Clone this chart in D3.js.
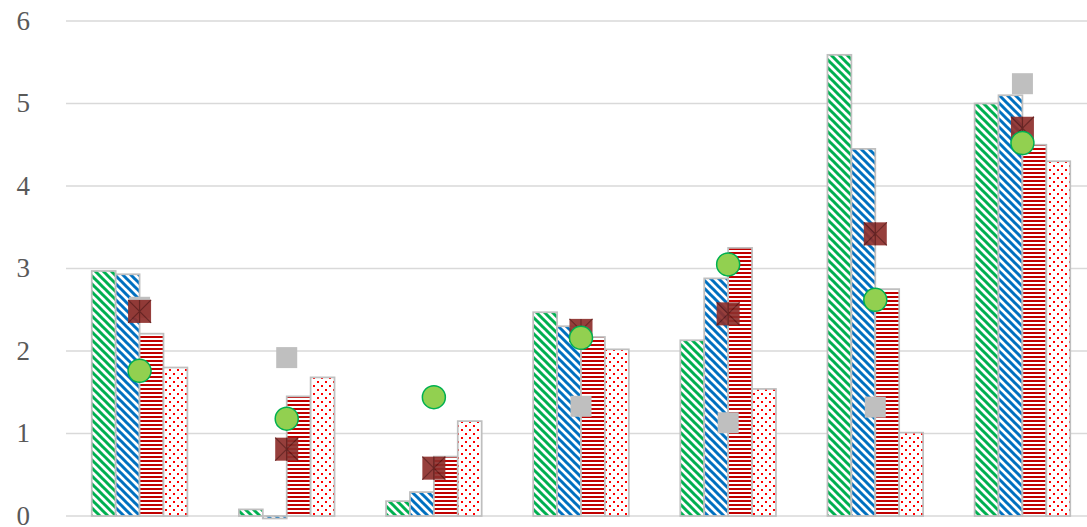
<!DOCTYPE html>
<html>
<head>
<meta charset="utf-8">
<script src="https://cdn.jsdelivr.net/npm/d3@7"></script>
<style>
  body { margin: 0; background: #fff; }
  .ylab { font-family: "Liberation Serif", "Times New Roman", serif; }
</style>
</head>
<body>
<div id="chart"></div>
<script>
// groups (no labels shown on the x axis)
const groups = ["1", "2", "3", "4", "5", "6", "7"]
const yTicks = [0, 1, 2, 3, 4, 5, 6]

// bar series
const greenBars = [2.97, 0.08, 0.18, 2.47, 2.13, 5.59, 5.00]
const blueBars = [2.93, -0.03, 0.29, 2.30, 2.88, 4.45, 5.10]
const redBars = [2.21, 1.45, 0.72, 2.17, 3.25, 2.75, 4.50]
const dotBars = [1.80, 1.68, 1.15, 2.02, 1.54, 1.01, 4.30]

// marker series
const grayMarks = [2.53, 1.92, null, 1.33, 1.13, 1.32, 5.24]
const crossMarks = [2.48, 0.81, 0.58, 2.25, 2.45, 3.42, 4.70]
const circleMarks = [1.76, 1.18, 1.44, 2.16, 3.05, 2.62, 4.52]

const width = 1087, height = 527

const svg = d3.select("#chart")
    .append("svg")
    .attr("width", width)
    .attr("height", height)

// patterns
const defs = svg.append("defs")

function diagPattern(id, color) {
    const p = defs.append("pattern")
        .attr("id", id)
        .attr("patternUnits", "userSpaceOnUse")
        .attr("width", 8).attr("height", 8)
    p.append("rect").attr("width", 8).attr("height", 8).attr("fill", "#fff")
    p.append("path")
        .attr("d", "M-1,-1 L9,9 M-1,7 L1,9 M7,-1 L9,1")
        .attr("stroke", color)
        .attr("stroke-width", 3)
}
diagPattern("pGreen", "#00B050")
diagPattern("pBlue", "#0070C0")

const ph = defs.append("pattern")
    .attr("id", "pRed")
    .attr("patternUnits", "userSpaceOnUse")
    .attr("width", 4).attr("height", 4)
ph.append("rect").attr("width", 4).attr("height", 4).attr("fill", "#fff")
ph.append("rect").attr("width", 4).attr("height", 2).attr("fill", "#C00000")

const pd = defs.append("pattern")
    .attr("id", "pDots")
    .attr("patternUnits", "userSpaceOnUse")
    .attr("width", 8).attr("height", 8)
pd.append("rect").attr("width", 8).attr("height", 8).attr("fill", "#fff")
pd.append("rect").attr("x", 1).attr("y", 1).attr("width", 2).attr("height", 2).attr("fill", "#FF0000")
pd.append("rect").attr("x", 5).attr("y", 5).attr("width", 2).attr("height", 2).attr("fill", "#FF0000")

// scales
const x = d3.scaleBand()
    .domain(groups)
    .range([66, 1096])
    .paddingInner(0.35)
    .paddingOuter(0.175)

const seriesNames = ["green", "blue", "red", "dots"]
const xSub = d3.scaleBand()
    .domain(seriesNames)
    .range([0, x.bandwidth()])

const y = d3.scaleLinear()
    .domain([0, 6])
    .range([516, 21])

// gridlines
svg.append("g")
    .selectAll("line")
    .data(yTicks)
    .join("line")
    .attr("x1", 66).attr("x2", width)
    .attr("y1", d => y(d)).attr("y2", d => y(d))
    .attr("stroke", "#d9d9d9")
    .attr("stroke-width", 1.5)

// y labels
svg.append("g")
    .selectAll("text")
    .data(yTicks)
    .join("text")
    .attr("class", "ylab")
    .attr("x", 30)
    .attr("y", d => y(d))
    .attr("dy", "0.33em")
    .attr("text-anchor", "end")
    .style("font-size", "27px")
    .attr("fill", "#595959")
    .text(d => d)

// bars
const barSeries = [
    { key: "green", values: greenBars, fill: "url(#pGreen)" },
    { key: "blue", values: blueBars, fill: "url(#pBlue)" },
    { key: "red", values: redBars, fill: "url(#pRed)" },
    { key: "dots", values: dotBars, fill: "url(#pDots)" }
]

barSeries.forEach(s => {
    svg.append("g")
        .selectAll("rect")
        .data(s.values)
        .join("rect")
        .attr("x", (d, i) => x(groups[i]) + xSub(s.key))
        .attr("width", xSub.bandwidth())
        .attr("y", d => Math.min(y(d), y(0)))
        .attr("height", d => Math.abs(y(d) - y(0)))
        .attr("fill", s.fill)
        .attr("stroke", "#bfbfbf")
        .attr("stroke-width", 1.75)
})

const cx = i => x(groups[i]) + x.bandwidth() / 2

// gray squares
const gs = 21
svg.append("g")
    .selectAll("rect")
    .data(grayMarks.map((v, i) => ({ v, i })).filter(d => d.v != null))
    .join("rect")
    .attr("x", d => cx(d.i) - gs / 2)
    .attr("y", d => y(d.v) - gs / 2)
    .attr("width", gs).attr("height", gs)
    .attr("fill", "#BFBFBF")

// dark red squares with X
const cs = 23
const cross = svg.append("g")
    .selectAll("g")
    .data(crossMarks)
    .join("g")
    .attr("transform", (d, i) => `translate(${cx(i)},${y(d)})`)
    .attr("opacity", 0.92)
cross.append("rect")
    .attr("x", -cs / 2).attr("y", -cs / 2)
    .attr("width", cs).attr("height", cs)
    .attr("fill", "#8E2F2C")
cross.append("path")
    .attr("d", `M${-cs / 2},${-cs / 2} L${cs / 2},${cs / 2} M${cs / 2},${-cs / 2} L${-cs / 2},${cs / 2} M0,${-cs / 2} L0,${cs / 2}`)
    .attr("stroke", "#5E1816")
    .attr("stroke-width", 1.2)

// green circles
svg.append("g")
    .selectAll("circle")
    .data(circleMarks)
    .join("circle")
    .attr("cx", (d, i) => cx(i))
    .attr("cy", d => y(d))
    .attr("r", 11.5)
    .attr("fill", "#92D050")
    .attr("stroke", "#00B050")
    .attr("stroke-width", 1.5)
</script>
</body>
</html>
